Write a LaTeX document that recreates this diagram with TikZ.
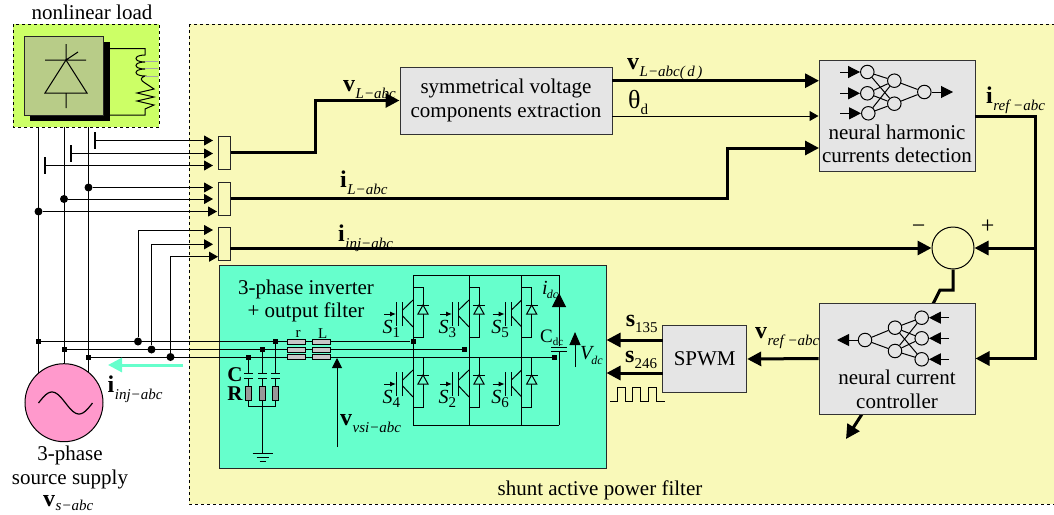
\documentclass[tikz,border=0pt]{standalone}
\usepackage{fontspec}
\setmainfont{Liberation Serif}
\usetikzlibrary{arrows.meta}
\definecolor{filterbg}{HTML}{F9F9B9}
\definecolor{loadbg}{HTML}{CCFF66}
\definecolor{bridgebg}{HTML}{B8CC88}
\definecolor{inverterbg}{HTML}{66FFCC}
\definecolor{blockbg}{HTML}{E5E5E5}
\definecolor{sourcebg}{HTML}{FF99CC}
\newcommand{\bigfont}{\fontsize{21}{23.5}\selectfont}
\newcommand{\subfont}{\fontsize{15}{15}\selectfont}
\newcommand{\dcfont}{\fontsize{12}{12}\selectfont}
\newcommand{\sigb}[2]{{\fontsize{24}{24}\selectfont\bfseries #1}\kern.5pt\raisebox{-7pt}{\subfont\itshape #2}}
\newcommand{\sigr}[2]{{\fontsize{24}{24}\selectfont\bfseries #1}\raisebox{-6pt}{\subfont #2}}
\tikzset{
  every node/.style={font=\bigfont,inner sep=0pt},
  wire/.style={line width=1pt},
  heavy/.style={line width=3pt},
  thintip/.style={wire,-{Triangle[length=9pt,width=10pt]}},
  heavytip/.style={heavy,-{Triangle[length=14pt,width=14pt]}},
  nettip/.style={wire,-{Triangle[length=12pt,width=12pt]}},
  block/.style={draw=black!80,line width=1pt,fill=blockbg,minimum width=#1},
  sensebox/.style={draw=black!85,line width=1pt,fill=filterbg,minimum width=12pt,minimum height=33pt},
  dotjoint/.style={circle,fill=black,minimum size=8pt},
  squarejoint/.style={rectangle,fill=black,minimum size=5pt},
  tbar/.style={rectangle,fill=black,minimum width=2pt,minimum height=17pt},
  neuron/.style={circle,draw,line width=1pt,minimum size=13.5pt},
  sigtext/.style={anchor=base west},
  coilbox/.style={draw,line width=.8pt,fill=black!22,minimum width=18.5pt,minimum height=5pt},
}
\begin{document}
\begin{tikzpicture}[x=1pt,y=-1pt]
\useasboundingbox (0,0) rectangle (1054,514);
% areas
\draw[dashed,line width=1pt,fill=filterbg] (189,24) rectangle (1060,504);
\draw[dashed,line width=1pt,fill=loadbg] (13,24) rectangle (159,127);
\node[draw=black!85,line width=1pt,fill=inverterbg,minimum width=387pt,minimum height=203.5pt] (inverter) at (412.5,367.2) {};
\node at (92,12) {nonlinear load};
\node at (600,490) {shunt active power filter};
% nonlinear load
\fill[black] (30,42) rectangle (110,121);
\node[draw=black!85,line width=1pt,fill=bridgebg,minimum size=79pt] (bridge) at (63.5,75.5) {};
\draw[wire] (66,60) -- (45,93) -- (87,93) -- cycle;
\draw[wire] (45,60) -- (86,60) (66,44) -- (66,60) -- (78,52) (66,93) -- (66,108);
\draw[wire] (108,48.5) -- (145,48.5) -- (145,55)
  .. controls (133,55) and (133,62) .. (145,62)
  .. controls (133,62) and (133,69) .. (145,69)
  .. controls (133,69) and (133,76) .. (145,76)
  .. controls (140,78) and (140,80) .. (145,83)
  -- (154,89) -- (137,93) -- (154,97) -- (137,101) -- (154,105) -- (145,109) -- (145,115) -- (108,115);
\foreach \y in {61,68,76} \draw[line width=.7pt,black!35] (145,\y) -- (158,\y);
% source
\coordinate (phA) at (38.5,127);
\coordinate (phB) at (64,127);
\coordinate (phC) at (88.5,127);
\coordinate (srcMid) at (64,402.7);
\foreach \ph in {phA,phB,phC} \draw[wire] (\ph) -- (\ph |- srcMid);
\node[circle,draw,line width=1pt,fill=sourcebg,minimum size=78pt] (source) at (srcMid) {};
\draw[line width=1.2pt] plot[domain=0:1,samples=40,smooth] ({38.5+54*\x},{403-11*sin(360*\x)});
\node[align=center,anchor=north] (sourcetext) at (70,446) {3-phase\\source supply};
\node[sigtext] (vsource) at (43,506.5) {{\fontsize{24}{24}\selectfont\bfseries v}\kern.5pt\raisebox{-4pt}{\subfont\itshape s−abc}};
% measurement blocks
\node[sensebox] (absV) at (224,152.5) {};
\node[sensebox] (absI) at (224,198.5) {};
\node[sensebox] (absJ) at (224,243.7) {};
\foreach \nm/\x/\y/\tipx in {barVa/95/140.5/213,barVb/71/153.5/213,barVc/45/165.5/213}{
  \node[tbar] (\nm) at (\x,\y) {};
  \coordinate (\nm tip) at (\tipx,\y);
  \draw[thintip] (\nm) -- (\nm tip);
}
\foreach \nm/\x/\y/\tipx in {dotIa/88.5/187.5/213,dotIb/64/199/213,dotIc/38.5/211.5/217}{
  \node[dotjoint] (\nm) at (\x,\y) {};
  \coordinate (\nm tip) at (\tipx,\y);
  \draw[thintip] (\nm) -- (\nm tip);
}
% switches
\foreach \legx/\ysh/\nbr in {0/0/1,56/0/3,108.7/0/5,0/70/4,56/70/2,108.7/70/6}{
\begin{scope}[shift={(\legx,\ysh)}]
  \draw[wire] (396.7,302) -- (396.7,326) (402.7,302) -- (402.7,326);
  \draw[wire] (402.7,310) -- (413,300) (402.7,316) -- (413,327);
  \draw[wire,-{Latex[length=6pt,width=5pt]}] (384,314) -- (396,314);
  \draw[wire] (413,287) -- (423,287) -- (423,337) -- (413,337);
  \draw[wire,fill=inverterbg] (423,305) -- (418,314) -- (428,314) -- cycle;
  \draw[wire] (417,305) -- (429,305);
  \node[sigtext,font=\fontsize{20}{20}\selectfont] at (382.5,333.5) {\textit{S}\raisebox{-4pt}{\subfont\nbr}};
\end{scope}
}
\coordinate (railTa) at (413,275);
\coordinate (railTb) at (559,275);
\coordinate (railBa) at (413,425);
\coordinate (railBb) at (559,425);
\draw[wire] (railTa) -- (railTb) (railBa) -- (railBb);
\foreach \x in {413,469,521.7} \draw[wire] (\x,275) -- (\x,425);
\node[minimum width=0pt] (capTop) at (559,347) {};
\node[minimum width=0pt] (capLow) at (559,351) {};
\draw[wire] (railBb) -- (capLow);
\draw[wire] (capTop) -- (railTb);
\draw[line width=1pt] (551,347) -- (567,347) (551,351) -- (567,351);
\coordinate (idcTip) at (559,293);
\draw[heavytip,line width=1pt] (capTop) -- (idcTip);
\coordinate (vdcBase) at (575,367);
\coordinate (vdcTip) at (575,332);
\draw[wire,-{Triangle[length=13pt,width=11pt]}] (vdcBase) -- (vdcTip);
\node[sigtext,font=\fontsize{20}{20}\selectfont] at (542,294) {\textit{i}\kern-1pt\raisebox{-4pt}{\dcfont\itshape dc}};
\node[sigtext,font=\fontsize{19}{19}\selectfont] at (540,342) {C\raisebox{-3pt}{\fontsize{11}{11}\selectfont dc}};
\node[sigtext,font=\fontsize{20}{20}\selectfont] at (580,359) {\textit{V}\kern-3pt\raisebox{-5pt}{\dcfont\itshape dc}};
\node[align=center] at (306,301) {3-phase inverter\\+ output filter};
% buses and filter
\foreach \nm/\x/\y/\ex/\dx in {A/38.5/341.5/413/138,B/64/349.5/464.5/151.5,C/88.5/357/554.5/170.5}{
  \node[squarejoint] (bus\nm) at (\x,\y) {};
  \node[squarejoint] (end\nm) at (\ex,\y) {};
  \node[dotjoint] (dot\nm) at (\dx,\y) {};
  \draw[wire] (bus\nm) -- (end\nm);
}
\foreach \nm/\y/\tipx in {A/230/213,B/244.3/213,C/256.7/218}{
  \coordinate (inJ\nm) at (\tipx,\y);
  \draw[thintip] (dot\nm) |- (inJ\nm);
}
\foreach \x/\nm/\y in {275.5/a/341.5,262.5/b/349.5,248.5/c/357}{
  \node[squarejoint] (filt\nm) at (\x,\y) {};
  \draw[wire] (filt\nm) -- (\x,373.7) (\x,378) -- (\x,406.7);
  \draw[wire] (\x-4.5,373.7) -- (\x+4.5,373.7) (\x-4.5,378) -- (\x+4.5,378);
  \draw[wire,fill=black!40] (\x-3,386.7) rectangle (\x+3,400.7);
}
\coordinate (earth) at (262.5,453);
\draw[wire] (248.5,406.7) -- (275.5,406.7) (262.5,406.7) -- (earth);
\draw[wire] (252.5,453) -- (272.5,453) (256.5,457) -- (268.5,457) (259.5,461) -- (265.5,461);
\foreach \x/\y in {296.5/341.8,321.6/341.8,296.5/349.8,321.6/349.8,296.5/357,321.6/357}
  \node[coilbox] at (\x,\y) {};
\node[font=\subfont] at (298,334) {r};
\node[font=\subfont] at (322.7,334) {L};
\node[font=\bigfont\bfseries] at (235,375) {C};
\node[font=\bigfont\bfseries] at (235,394) {R};
\coordinate (vsiBase) at (337,447);
\coordinate (vsiTip) at (337,358);
\draw[wire,-{Triangle[length=10pt,width=10pt]}] (vsiBase) -- (vsiTip);
\node[sigtext] at (340,425) {\sigb{v}{vsi−abc}};
\coordinate (injStart) at (183,365);
\coordinate (injTip) at (108,365);
\draw[line width=3pt,inverterbg,-{Triangle[length=14pt,width=14pt]}] (injStart) -- (injTip);
\node[sigtext] at (107.5,392.7) {\sigb{i}{inj−abc}};
% control blocks
\coordinate (tuneTail) at (846,439);
\coordinate (sumKnee) at (953,290);
\coordinate (sumElbow) at (940,290);
\node[circle,draw,line width=1pt,minimum size=42pt] (sumnode) at (953,248) {};
\draw[heavytip] (sumnode.south) -- (sumKnee) -- (sumElbow) -- (934,302) -- (tuneTail);
\node[block=212pt,minimum height=67pt,align=center] (symbox) at (506,100.5) {symmetrical voltage\\components extraction};
\node[block=156pt,minimum height=111pt] (harmbox) at (897,116) {};
\node[block=156pt,minimum height=111pt] (ctrlbox) at (897,358.5) {};
\node[block=84pt,minimum height=67pt] (spwmbox) at (704.7,359) {SPWM};
\node[align=center] (harmtext) at (897,144) {neural harmonic\\currents detection};
\node[align=center] (ctrltext) at (897,389.5) {neural current\\controller};
% neural nets
\foreach \nm/\x/\y in {hia/867.3/72,hib/867.3/93.3,hic/868.3/113.3,hha/894.3/80.7,hhb/894.3/103.7,hoa/924.3/92,
  coa/865/340,cha/895/327.7,chb/895/351,cia/921.7/317.7,cib/921.7/338.3,cic/921.7/359.3}
  \node[neuron] (\nm) at (\x,\y) {};
\foreach \a/\b in {hia/hha,hia/hhb,hib/hha,hib/hhb,hic/hha,hic/hhb,hha/hoa,hhb/hoa,
  coa/cha,coa/chb,cha/cia,cha/cib,cha/cic,chb/cia,chb/cib,chb/cic}
  \draw[wire] (\a) -- (\b);
\foreach \nm/\ox in {hia/840,hib/840,hic/840,cia/949,cib/949,cic/949}{
  \coordinate (\nm src) at (\ox,0 |- \nm);
  \draw[nettip] (\nm src) -- (\nm);
}
\coordinate (hoaEnd) at (953,92);
\draw[nettip] (hoa) -- (hoaEnd);
\coordinate (coaEnd) at (837,340);
\draw[nettip] (coa) -- (coaEnd);
% connectors
\coordinate (kneeV) at (315,125);
\coordinate (kneeI) at (727.7,170);
\coordinate (harmI) at (819,148);
\coordinate (symV) at (612,80.7);
\coordinate (harmV) at (819,80.7);
\coordinate (symTh) at (612,116);
\coordinate (refOut) at (975,116);
\coordinate (refDown) at (1035,248);
\coordinate (spwmA) at (662.7,340);
\coordinate (spwmB) at (662.7,373);
\coordinate (gateA) at (606.5,340);
\coordinate (gateB) at (606.5,373);
\coordinate (absJout) at (230,248);
\draw[heavytip] (absV.east) -| (kneeV) |- (symbox.west);
\draw[heavytip] (absI.east) -| (kneeI) |- (harmI);
\draw[heavytip] (absJout) -- (sumnode.west);
\draw[heavytip] (symV) -- (harmV);
\draw[thintip] (symTh) -- (harmbox.west);
\draw[heavytip] (refOut) -| (refDown) |- (ctrlbox.east);
\draw[heavytip] (refDown) -- (sumnode.east);
\draw[heavytip] (ctrlbox.west) -- (spwmbox.east);
\draw[heavytip] (spwmA) -- (gateA);
\draw[heavytip] (spwmB) -- (gateB);
\draw[wire] (610,401) -- (617.3,401) -- (617.3,387) -- (625,387) -- (625,401) -- (632.3,401) -- (632.3,387) -- (640,387) -- (640,401) -- (648,401) -- (648,387) -- (656.7,387) -- (656.7,401) -- (665,401);
% labels
\node[sigtext] at (343,91) {\sigb{v}{L−abc}};
\node[sigtext] at (340,187) {\sigb{i}{L−abc}};
\node[sigtext] at (338,241) {\sigb{i}{inj−abc}};
\node[sigtext] at (627,69) {\sigb{v}{L−abc(\,d\,)}};
\node[sigtext] at (628,108) {{\fontsize{26}{26}\selectfont θ}\raisebox{-6pt}{\subfont d}};
\node[sigtext] at (986,103) {\sigb{i}{ref −abc}};
\node[sigtext] at (625.7,326.7) {\sigr{s}{135}};
\node[sigtext] at (625,362.7) {\sigr{s}{246}};
\node[sigtext] at (755,338) {\sigb{v}{ref −abc}};
\node[font=\fontsize{24}{24}\selectfont] at (918.7,229) {−};
\node[font=\fontsize{24}{24}\selectfont] at (987.7,227) {+};
\end{tikzpicture}
\end{document}
